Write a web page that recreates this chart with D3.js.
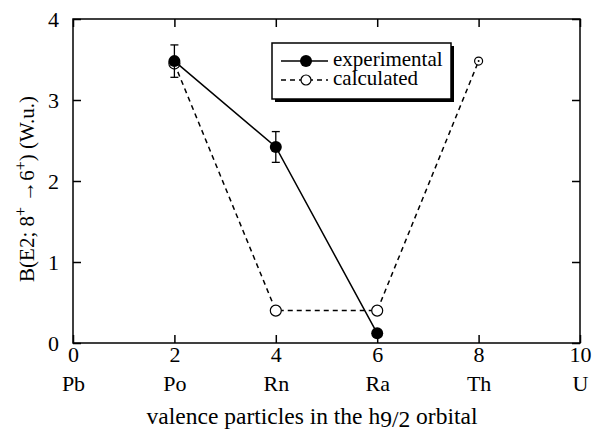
<!DOCTYPE html>
<html><head><meta charset="utf-8">
<script src="https://cdn.jsdelivr.net/npm/d3@7"></script>
<style>body{margin:0;background:#fff}</style>
</head><body><svg id="c" width="602" height="436"></svg>
<script>
const xTicks = [0, 2, 4, 6, 8, 10];
const elementLabels = ["Pb", "Po", "Rn", "Ra", "Th", "U"];
const yTicks = [0, 1, 2, 3, 4];
const expX = [2, 4, 6];
const expY = [3.48, 2.42, 0.12];
const expErr = [0.2, 0.19, 0];
const calcX = [2, 4, 6, 8];
const calcY = [3.45, 0.4, 0.4, 3.48];
const seriesNames = ["experimental", "calculated"];

const FONT = "'Liberation Serif', 'Times New Roman', serif";
const svg = d3.select("#c");
const L = 73, R = 580, T = 19, B = 343;
const x = d3.scaleLinear().domain([0, 10]).range([L, R]);
const y = d3.scaleLinear().domain([0, 4]).range([B, T]);

svg.append("rect").attr("x", L).attr("y", T).attr("width", R - L).attr("height", B - T)
  .attr("fill", "none").attr("stroke", "#000").attr("stroke-width", 1.5);

const tickLen = 8;
const fmt = d3.format("d");
const xb = svg.append("g").attr("transform", `translate(0,${B})`)
  .call(d3.axisBottom(x).tickValues(xTicks).tickFormat(fmt).tickSizeInner(-tickLen).tickSizeOuter(0).tickPadding(tickLen + 7));
xb.select(".domain").remove();
xb.selectAll("line").attr("stroke-width", 1.5);
xb.selectAll("text").attr("dy", "0.2em");
xb.selectAll(".tick").append("text").attr("y", 44).attr("dy", "0.2em")
  .attr("text-anchor", "middle").text((d, i) => elementLabels[i]);
const xt = svg.append("g").attr("transform", `translate(0,${T})`)
  .call(d3.axisTop(x).tickValues(xTicks).tickSizeInner(-tickLen).tickSizeOuter(0).tickFormat(""));
xt.select(".domain").remove();
xt.selectAll("line").attr("stroke-width", 1.5);
const yl = svg.append("g").attr("transform", `translate(${L},0)`)
  .call(d3.axisLeft(y).tickValues(yTicks).tickFormat(fmt).tickSizeInner(-tickLen).tickSizeOuter(0).tickPadding(tickLen + 6));
yl.select(".domain").remove();
yl.selectAll("line").attr("stroke-width", 1.5);
const yr = svg.append("g").attr("transform", `translate(${R},0)`)
  .call(d3.axisRight(y).tickValues(yTicks).tickSizeInner(-tickLen).tickSizeOuter(0).tickFormat(""));
yr.select(".domain").remove();
yr.selectAll("line").attr("stroke-width", 1.5);

const xt2 = svg.append("text").attr("class", "title").attr("x", 312).attr("y", 424).attr("text-anchor", "middle");
xt2.append("tspan").text("valence particles in the h");
xt2.append("tspan").attr("dy", 3).text("9/2");
xt2.append("tspan").attr("dy", -3).text(" orbital");

const yt = svg.append("text").attr("class", "ylab").attr("transform", `translate(34,189) rotate(-90)`)
  .attr("text-anchor", "middle");
yt.append("tspan").text("B(E2; 8");
yt.append("tspan").attr("dy", -8).attr("class", "sup").text("+");
yt.append("tspan").attr("dy", 8).text(" \u2192");
yt.append("tspan").text("6");
yt.append("tspan").attr("dy", -8).attr("class", "sup").text("+");
yt.append("tspan").attr("dy", 8).text(")  (W.u.)");

const calc = calcX.map((d, i) => [d, calcY[i]]);
const line = d3.line().x(d => x(d[0])).y(d => y(d[1]));
svg.append("path").attr("d", line(calc)).attr("fill", "none").attr("stroke", "#000")
  .attr("stroke-width", 1.5).attr("stroke-dasharray", "5,4");
svg.selectAll(".cpt").data(calc).enter().append("circle").attr("class", "cpt")
  .attr("cx", d => x(d[0])).attr("cy", d => y(d[1]))
  .attr("r", (d, i) => i === calc.length - 1 ? 4 : 5.5)
  .attr("fill", "#fff").attr("stroke", "#000").attr("stroke-width", 1.2);
svg.append("circle").attr("cx", x(calcX[3])).attr("cy", y(calcY[3])).attr("r", 1).attr("fill", "#000");

const exp = expX.map((d, i) => [d, expY[i], expErr[i]]);
svg.append("path").attr("d", line(exp)).attr("fill", "none").attr("stroke", "#000").attr("stroke-width", 1.5);
exp.filter(d => d[2] > 0).forEach(d => {
  const g = svg.append("g").attr("stroke", "#000").attr("stroke-width", 1.3);
  g.append("line").attr("x1", x(d[0])).attr("x2", x(d[0])).attr("y1", y(d[1] + d[2])).attr("y2", y(d[1] - d[2]));
  g.append("line").attr("x1", x(d[0]) - 4).attr("x2", x(d[0]) + 4).attr("y1", y(d[1] + d[2])).attr("y2", y(d[1] + d[2]));
  g.append("line").attr("x1", x(d[0]) - 4).attr("x2", x(d[0]) + 4).attr("y1", y(d[1] - d[2])).attr("y2", y(d[1] - d[2]));
});
svg.selectAll(".ept").data(exp).enter().append("circle").attr("class", "ept")
  .attr("cx", d => x(d[0])).attr("cy", d => y(d[1])).attr("r", 6).attr("fill", "#000");

const lg = svg.append("g");
lg.append("rect").attr("x", 275).attr("y", 46).attr("width", 179).attr("height", 56).attr("fill", "#000");
lg.append("rect").attr("x", 272).attr("y", 43).attr("width", 179).attr("height", 56)
  .attr("fill", "#fff").attr("stroke", "#000").attr("stroke-width", 1.5);
lg.append("line").attr("x1", 281).attr("x2", 328).attr("y1", 61).attr("y2", 61).attr("stroke", "#000").attr("stroke-width", 1.5);
lg.append("circle").attr("cx", 306).attr("cy", 61).attr("r", 6).attr("fill", "#000");
lg.append("line").attr("x1", 281).attr("x2", 328).attr("y1", 80).attr("y2", 80).attr("stroke", "#000")
  .attr("stroke-width", 1.5).attr("stroke-dasharray", "5,4");
lg.append("circle").attr("cx", 306).attr("cy", 80).attr("r", 5).attr("fill", "#fff").attr("stroke", "#000").attr("stroke-width", 1.2);
lg.append("text").attr("class", "leg").attr("x", 333).attr("y", 66).text(seriesNames[0]);
lg.append("text").attr("class", "leg").attr("x", 333).attr("y", 85).text(seriesNames[1]);

svg.selectAll("text").style("font-family", FONT).style("font-size", "22px").attr("fill", "#000");
svg.selectAll("text.title").style("font-size", "23.5px");
svg.selectAll("text.leg").style("font-size", "21px");
svg.selectAll("text.ylab").style("font-size", "21px");
svg.selectAll("tspan.sup").style("font-size", "16px");
</script></body></html>
